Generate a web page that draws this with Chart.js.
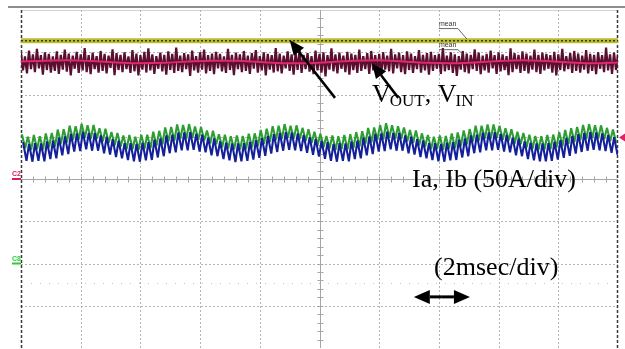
<!DOCTYPE html>
<html>
<head>
<meta charset="utf-8">
<script src="https://cdn.jsdelivr.net/npm/chart.js@4.4.1/dist/chart.umd.min.js"></script>
<style>
html,body{margin:0;padding:0;background:#fff;}
#wrap{position:relative;width:625px;height:349px;}
</style>
</head>
<body>
<div id="wrap"><canvas id="c" width="625" height="349"></canvas></div>
<script>
// ---- axis ticks (divisions: 2 ms/div horizontally, 8 vertical divisions) ----
const xTicks = [0,1,2,3,4,5,6,7,8,9,10];
const yTicks = [-4,-3,-2,-1,0,1,2,3,4];

// ---- V_OUT (flat, yellow) ----
const vOutTime = [0, 10];
const vOutLevel = [3.27, 3.27];

// ---- V_IN mean (bright pink), sampled every 0.4 div ----
const vInMean = [2.78,2.80,2.81,2.79,2.76,2.74,2.75,2.78,2.80,2.80,2.77,2.74,2.74,2.77,2.80,2.81,2.78,2.75,2.74,2.76,2.79,2.81,2.79,2.76,2.74,2.76];

// ---- V_IN raw (dark maroon noise), sampled every 1/30 div ----
const vInNoise = [
2.98,2.57,2.90,2.50,3.04,2.60,2.95,2.53,3.08,2.62,2.93,2.47,3.00,2.58,2.96,2.52,2.90,2.56,3.02,2.49,
2.94,2.59,3.06,2.54,2.97,2.45,2.92,2.61,3.01,2.51,2.95,2.57,3.10,2.53,2.93,2.48,2.99,2.60,2.91,2.52,
3.03,2.56,2.96,2.50,2.92,2.63,3.07,2.46,2.98,2.58,2.94,2.53,3.00,2.60,2.90,2.51,3.05,2.55,2.97,2.45,
2.93,2.59,3.01,2.52,3.09,2.57,2.95,2.49,2.91,2.61,2.99,2.55,2.94,2.47,3.02,2.58,2.96,2.51,3.11,2.56,
2.92,2.53,2.98,2.60,2.95,2.44,3.04,2.57,2.91,2.52,3.00,2.59,3.06,2.50,2.93,2.56,2.97,2.48,3.01,2.62,
2.96,2.55,2.90,2.51,3.08,2.58,2.94,2.46,2.99,2.60,2.95,2.53,3.03,2.56,2.92,2.49,2.98,2.61,3.05,2.52,
2.91,2.57,3.00,2.45,2.96,2.59,2.93,2.52,3.10,2.55,2.97,2.50,2.92,2.62,3.02,2.56,2.95,2.47,2.99,2.58,
3.07,2.51,2.94,2.60,2.98,2.54,2.91,2.48,3.04,2.57,2.96,2.52,3.00,2.43,2.93,2.59,3.09,2.55,2.95,2.50,
2.99,2.61,2.92,2.53,3.01,2.47,2.97,2.58,2.94,2.51,3.06,2.56,2.91,2.60,2.98,2.49,3.03,2.57,2.93,2.52,
2.96,2.45,3.00,2.59,2.92,2.55,3.08,2.50,2.95,2.62,2.99,2.53,2.93,2.48,3.02,2.58,2.97,2.51,2.91,2.60,
3.05,2.52,2.94,2.57,2.98,2.47,3.01,2.56,2.93,2.61,2.96,2.49,3.10,2.55,2.92,2.58,3.00,2.51,2.95,2.44,
2.91,2.59,3.03,2.53,2.97,2.50,2.94,2.60,3.07,2.56,2.99,2.48,2.92,2.57,2.96,2.52,3.04,2.62,2.93,2.49,
3.00,2.55,2.95,2.58,2.91,2.46,3.09,2.53,2.98,2.60,2.94,2.51,3.02,2.56,2.97,2.50,2.92,2.59,3.06,2.53,
2.94,2.49,2.99,2.57,2.96,2.61,2.93,2.52,3.01,2.45,2.95,2.58,3.08,2.55,2.91,2.60,2.98,2.51,3.03,2.56,
2.97,2.52,2.92,2.59,3.05,2.50,2.96,2.56,2.94,2.48,3.00,2.61,2.93,2.53,3.11,2.57,2.95,2.49,2.99,2.58,
2.95];

// ---- Ia (green): ripple peaks and valleys, one per 0.1 div ----
const iaPeaks = [
1.06,1.00,1.04,1.01,1.08,1.09,1.17,1.18,1.26,1.25,1.31,1.27,1.28,1.20,1.19,1.11,1.09,
1.03,1.04,1.00,1.05,1.05,1.12,1.14,1.22,1.23,1.29,1.28,1.30,1.24,1.23,1.15,1.14,1.06,
1.05,1.01,1.03,1.02,1.07,1.08,1.16,1.19,1.25,1.26,1.30,1.26,1.27,1.21,1.18,1.12,1.07,
1.02,1.03,1.01,1.04,1.06,1.11,1.13,1.21,1.22,1.28,1.32,1.27,1.25,1.22,1.16,1.15,1.08,
1.04,1.00,1.03,1.02,1.08,1.10,1.15,1.18,1.26,1.26,1.29,1.29,1.26,1.20,1.18,1.12,1.09,
1.05,1.02,1.01,1.04,1.05,1.11,1.16,1.20,1.23,1.28,1.30,1.27,1.27,1.21,1.17];
const iaValleys = [
0.73,0.69,0.71,0.70,0.75,0.77,0.84,0.87,0.93,0.94,0.98,0.95,0.95,0.89,0.86,0.80,0.77,
0.71,0.71,0.69,0.72,0.73,0.79,0.82,0.89,0.91,0.96,0.96,0.97,0.93,0.91,0.84,0.82,0.75,
0.72,0.70,0.70,0.71,0.75,0.78,0.83,0.88,0.92,0.95,0.97,0.96,0.94,0.90,0.85,0.81,0.76,
0.73,0.69,0.71,0.70,0.74,0.77,0.84,0.87,0.93,0.94,0.98,0.95,0.95,0.89,0.86,0.80,0.77,
0.71,0.71,0.69,0.72,0.73,0.79,0.82,0.89,0.91,0.96,0.96,0.97,0.93,0.91,0.84,0.82,0.75,
0.72,0.70,0.70,0.71,0.75,0.78,0.83,0.88,0.92,0.95,0.97,0.96,0.94,0.90,0.85];

// ---- Ib (blue): ripple peaks and valleys, one per 0.1 div ----
const ibPeaks = [
0.87,0.83,0.85,0.84,0.89,0.91,0.98,1.01,1.07,1.08,1.12,1.09,1.09,1.03,1.00,0.94,0.91,
0.85,0.85,0.83,0.86,0.87,0.93,0.96,1.03,1.05,1.10,1.10,1.11,1.07,1.05,0.98,0.96,0.89,
0.86,0.84,0.84,0.85,0.88,0.92,0.97,1.02,1.06,1.09,1.11,1.10,1.08,1.04,0.99,0.95,0.90,
0.87,0.83,0.85,0.84,0.89,0.91,0.98,1.01,1.07,1.08,1.12,1.09,1.09,1.03,1.00,0.94,0.91,
0.85,0.85,0.83,0.86,0.87,0.93,0.96,1.03,1.05,1.10,1.10,1.11,1.07,1.05,0.98,0.96,0.89,
0.86,0.84,0.84,0.85,0.88,0.92,0.97,1.02,1.06,1.09,1.11,1.10,1.08,1.04,0.99];
const ibValleys = [
0.43,0.41,0.43,0.42,0.47,0.49,0.56,0.59,0.65,0.66,0.70,0.67,0.67,0.61,0.58,0.52,0.49,
0.45,0.42,0.41,0.44,0.45,0.51,0.54,0.61,0.63,0.68,0.68,0.69,0.65,0.63,0.56,0.54,0.47,
0.44,0.40,0.42,0.43,0.46,0.50,0.55,0.60,0.64,0.67,0.69,0.68,0.66,0.62,0.57,0.53,0.48,
0.43,0.41,0.43,0.42,0.47,0.49,0.56,0.59,0.65,0.66,0.70,0.67,0.67,0.61,0.58,0.52,0.49,
0.45,0.42,0.41,0.44,0.45,0.51,0.54,0.61,0.63,0.68,0.68,0.69,0.65,0.63,0.56,0.54,0.47,
0.44,0.42,0.42,0.43,0.46,0.50,0.55,0.60,0.64,0.67,0.69,0.68,0.66,0.62,0.57];

const ripplePeriod = 0.1;    // div per ripple cycle
const noiseStep = 1/30;      // div per noise sample
const meanStep = 0.4;        // div per mean sample

// ---- build data for the library ----
function ripple(peaks, valleys, peakOff, valleyOff){
  const out=[];
  for(let i=0;i<peaks.length;i++){
    out.push({x:i*ripplePeriod+peakOff, y:peaks[i]});
    out.push({x:i*ripplePeriod+valleyOff, y:valleys[i]});
  }
  return out;
}
const vOutData = vOutTime.map((t,i)=>({x:t,y:vOutLevel[i]}));
const vInNoiseData = vInNoise.map((v,i)=>({x:i*noiseStep,y:v}));
const vInMeanData = vInMean.map((v,i)=>({x:i*meanStep,y:v}));
const iaData = ripple(iaPeaks, iaValleys, 0.015, 0.07);
const ibData = ripple(ibPeaks, ibValleys, 0.035, 0.092);

const scopePlugin = {
  id:'scope',
  beforeDatasetsDraw(chart){
    const {ctx, chartArea:a, scales:{x,y}} = chart;
    ctx.save();
    // top bar of the screen
    ctx.fillStyle='#8e8e8e';
    ctx.fillRect(8,6,617,2);
    // top border
    ctx.strokeStyle='#d4d4d4'; ctx.lineWidth=1;
    ctx.beginPath(); ctx.moveTo(a.left,a.top+0.5); ctx.lineTo(a.right,a.top+0.5); ctx.stroke();
    // dotted grid
    ctx.strokeStyle='#b4b4b4'; ctx.setLineDash([2,2]); ctx.lineWidth=1;
    xTicks.forEach(t=>{
      if(t===0||t===10||t===5) return;
      const px=Math.round(x.getPixelForValue(t))+0.5;
      ctx.beginPath(); ctx.moveTo(px,a.top); ctx.lineTo(px,a.bottom); ctx.stroke();
    });
    yTicks.forEach(t=>{
      if(t===-4||t===4||t===0) return;
      const py=Math.round(y.getPixelForValue(t))+0.5;
      ctx.beginPath(); ctx.moveTo(a.left,py); ctx.lineTo(a.right,py); ctx.stroke();
    });
    // faint dotted reference line
    ctx.strokeStyle='#c4c4c4'; ctx.setLineDash([1,8]);
    const ry=Math.round(y.getPixelForValue(-2.46))+0.5;
    ctx.beginPath(); ctx.moveTo(a.left+10,ry); ctx.lineTo(a.right-10,ry); ctx.stroke();
    // center axes with minor ticks
    ctx.setLineDash([]);
    ctx.strokeStyle='#a6a6a6'; ctx.lineWidth=1;
    const cx=Math.round(x.getPixelForValue(5))+0.5, cy=Math.round(y.getPixelForValue(0))+0.5;
    ctx.beginPath(); ctx.moveTo(a.left,cy); ctx.lineTo(a.right,cy); ctx.stroke();
    ctx.beginPath(); ctx.moveTo(cx,a.top); ctx.lineTo(cx,a.bottom); ctx.stroke();
    ctx.beginPath();
    for(let k=1;k<50;k++){
      const px=Math.round(x.getPixelForValue(k*0.2))+0.5;
      ctx.moveTo(px,cy-3); ctx.lineTo(px,cy+3);
    }
    for(let k=1;k<40;k++){
      const py=Math.round(y.getPixelForValue(-4+k*0.2))+0.5;
      ctx.moveTo(cx-3,py); ctx.lineTo(cx+3,py);
    }
    ctx.stroke();
    // left / right borders
    ctx.strokeStyle='#3a3a3a'; ctx.lineWidth=1.5; ctx.setLineDash([3,2]);
    ctx.beginPath(); ctx.moveTo(a.left+0.5,a.top); ctx.lineTo(a.left+0.5,a.bottom+1); ctx.stroke();
    ctx.beginPath(); ctx.moveTo(a.right-0.5,a.top); ctx.lineTo(a.right-0.5,a.bottom+1); ctx.stroke();
    ctx.restore();
  },
  afterDraw(chart){
    const {ctx, scales:{x,y}} = chart;
    const P=(xv,yv)=>[x.getPixelForValue(xv), y.getPixelForValue(yv)];
    ctx.save();
    // channel markers
    ctx.font='bold 7px "Liberation Sans", Arial, sans-serif';
    ctx.textBaseline='alphabetic';
    let [mx,my]=P(0,0);
    ctx.fillStyle='#d81c64'; ctx.fillText('C2',12,my-3); ctx.fillRect(12,my-1,9,2);
    [mx,my]=P(0,-2);
    ctx.fillStyle='#2ecc3a'; ctx.fillText('C8',12,my-3); ctx.fillRect(12,my-1,9,2);
    // trigger marker (right)
    let [tx,ty]=P(10,0.98);
    ctx.fillStyle='#e0206a';
    ctx.beginPath(); ctx.moveTo(tx+1,ty); ctx.lineTo(tx+7,ty-4); ctx.lineTo(tx+7,ty+4); ctx.closePath(); ctx.fill();
    // "mean" labels
    ctx.fillStyle='#333'; ctx.strokeStyle='#444'; ctx.lineWidth=0.8;
    ctx.font='7px "Liberation Sans", Arial, sans-serif';
    const m1=P(7.0,3.62), m2=P(7.0,3.12);
    ctx.fillText('mean',m1[0],m1[1]); ctx.fillText('mean',m2[0],m2[1]);
    ctx.beginPath();
    ctx.moveTo(m1[0],m1[1]+2.5); ctx.lineTo(m1[0]+19,m1[1]+2.5); ctx.lineTo(m1[0]+28,m1[1]+13);
    ctx.moveTo(m2[0],m2[1]+2.5); ctx.lineTo(m2[0]+19,m2[1]+2.5); ctx.lineTo(m2[0]+24,m2[1]+7);
    ctx.stroke();
    // arrows
    function arrow(x0,y0,x1,y1,w,hl,hw){
      const ang=Math.atan2(y1-y0,x1-x0);
      const bx=x1-hl*Math.cos(ang), by=y1-hl*Math.sin(ang);
      ctx.lineWidth=w; ctx.strokeStyle='#000'; ctx.fillStyle='#000';
      ctx.beginPath(); ctx.moveTo(x0,y0); ctx.lineTo(bx,by); ctx.stroke();
      ctx.beginPath(); ctx.moveTo(x1,y1);
      ctx.lineTo(bx+hw*Math.sin(ang), by-hw*Math.cos(ang));
      ctx.lineTo(bx-hw*Math.sin(ang), by+hw*Math.cos(ang));
      ctx.closePath(); ctx.fill();
    }
    let a0=P(5.26,1.92), a1=P(4.50,3.29);
    arrow(a0[0],a0[1],a1[0],a1[1],2.5,15,6.5);
    a0=P(6.32,1.92); a1=P(5.88,2.74);
    arrow(a0[0],a0[1],a1[0],a1[1],2.5,15,6.5);
    // double arrow (time scale)
    const d0=P(6.58,-2.79), d1=P(7.52,-2.79), dm=P(7.05,-2.79);
    arrow(dm[0],dm[1],d0[0],d0[1],3,16,7);
    arrow(dm[0],dm[1],d1[0],d1[1],3,16,7);
    // text labels
    ctx.fillStyle='#000';
    const serifBig='26px "Liberation Serif", "Times New Roman", serif';
    const serifSub='17px "Liberation Serif", "Times New Roman", serif';
    let [lx,ly]=P(5.88,1.82);
    ctx.font=serifBig; ctx.fillText('V',lx,ly); lx+=ctx.measureText('V').width-1;
    ctx.font=serifSub; ctx.fillText('OUT',lx,ly+4); lx+=ctx.measureText('OUT').width;
    ctx.font=serifBig; ctx.fillText(', V',lx,ly); lx+=ctx.measureText(', V').width-1;
    ctx.font=serifSub; ctx.fillText('IN',lx,ly+4);
    ctx.font=serifBig;
    const t1=P(6.55,-0.19); ctx.fillText('Ia, Ib (50A/div)',t1[0],t1[1]);
    const t2=P(6.92,-2.27); ctx.fillText('(2msec/div)',t2[0],t2[1]);
    ctx.restore();
  }
};

new Chart(document.getElementById('c'), {
  type:'line',
  data:{datasets:[
    {data:vOutData, borderColor:'#3a3a08', borderWidth:1.5, borderDash:[2,2], order:0},
    {data:vOutData, borderColor:'#bcbc34', borderWidth:5, order:1},
    {data:vInMeanData, borderColor:'#e3286e', borderWidth:2, order:2, cubicInterpolationMode:'monotone'},
    {data:vInNoiseData, borderColor:'#5a0f30', borderWidth:2.2, borderJoinStyle:'bevel', order:3},
    {data:ibData, borderColor:'#14209a', borderWidth:2.1, borderJoinStyle:'bevel', order:4},
    {data:iaData, borderColor:'#2d9e34', borderWidth:2.1, borderJoinStyle:'bevel', order:5}
  ]},
  options:{
    responsive:false, animation:false, devicePixelRatio:1,
    layout:{padding:{left:21,right:7,top:10,bottom:1}},
    elements:{point:{radius:0}, line:{tension:0}},
    plugins:{legend:{display:false}, tooltip:{enabled:false}},
    scales:{
      x:{type:'linear', display:false, min:0, max:10},
      y:{type:'linear', display:false, min:-4, max:4}
    }
  },
  plugins:[scopePlugin]
});
</script>
</body>
</html>
